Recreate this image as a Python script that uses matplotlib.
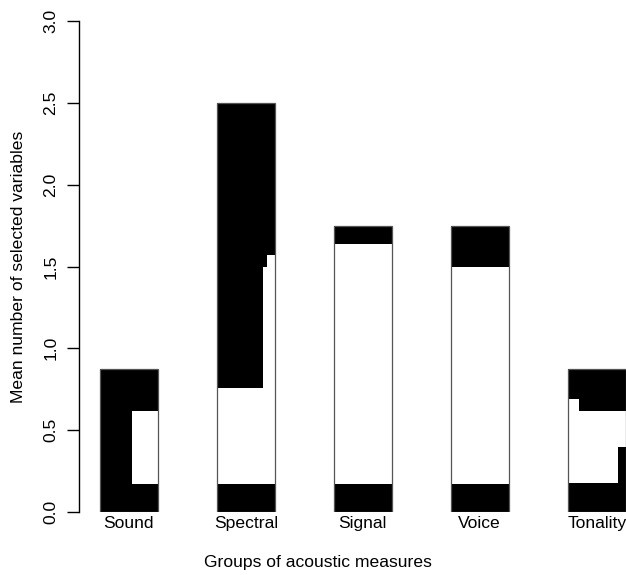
"""
Mean number of selected variables per group of acoustic measures
"""
import matplotlib
matplotlib.use("Agg")
import matplotlib.pyplot as plt

plt.rcParams['font.family'] = ['Liberation Sans', 'DejaVu Sans']

# groups and total bar heights
groups = ["Sound", "Spectral", "Signal", "Voice", "Tonality"]
totals = [0.875, 2.5, 1.75, 1.75, 0.875]

# white segments inside the bars: bar index, y from, y to, x-fraction from, x-fraction to
seg_bar = [0, 1, 1, 1, 2, 3, 4, 4, 4]
seg_low = [0.17, 0.17, 0.76, 1.50, 0.17, 0.17, 0.175, 0.40, 0.62]
seg_high = [0.62, 0.76, 1.50, 1.57, 1.64, 1.50, 0.40, 0.62, 0.69]
seg_x0 = [0.55, 0.0, 0.79, 0.86, 0.0, 0.0, 0.0, 0.0, 0.0]
seg_x1 = [1.0, 1.0, 1.0, 1.0, 1.0, 1.0, 0.87, 1.0, 0.19]

FS = 12.6


def main():
    fig = plt.figure(figsize=(6.26, 5.75), dpi=100)
    ax = fig.add_axes([78.5 / 626, 63 / 575, 568.6 / 626, 491 / 575])

    # R barplot layout: width 1, space 1
    lefts = [1 + 2 * i for i in range(len(groups))]
    centers = [l + 0.5 for l in lefts]

    ax.bar(lefts, totals, width=1.0, align='edge', color='black',
           edgecolor='none', linewidth=0)

    for b, lo, hi, x0, x1 in zip(seg_bar, seg_low, seg_high, seg_x0, seg_x1):
        ax.bar(lefts[b] + x0, hi - lo, width=x1 - x0, bottom=lo, align='edge',
               color='white', edgecolor='none', linewidth=0)

    # bar outlines on top
    ax.bar(lefts, totals, width=1.0, align='edge', facecolor='none',
           edgecolor='#555555', linewidth=0.9)

    ax.set_xlim(0.64, 10.36)
    ax.set_ylim(0, 3)

    for side in ['top', 'right', 'bottom']:
        ax.spines[side].set_visible(False)
    ax.spines['left'].set_bounds(0, 3)
    ax.spines['left'].set_linewidth(1.0)

    yt = [0, 0.5, 1.0, 1.5, 2.0, 2.5, 3.0]
    ax.set_yticks(yt)
    ax.set_yticklabels([f"{v:.1f}" for v in yt], rotation=90, va='center',
                       fontsize=FS)
    ax.tick_params(axis='y', length=8.6, width=1.0, pad=6)

    ax.set_xticks(centers)
    ax.set_xticklabels(groups, fontsize=FS)
    ax.tick_params(axis='x', length=0, pad=3)

    ax.set_ylabel("Mean number of selected variables", fontsize=FS)
    ax.set_xlabel("Groups of acoustic measures", fontsize=FS)
    ax.yaxis.set_label_coords(-(79 - 19) / 568.6, 0.5)
    ax.xaxis.set_label_coords((318 - 79) / 568.6, -(563 - 512) / 491)
    ax.xaxis.label.set_va('center')
    ax.yaxis.label.set_va('center')

    fig.savefig("out.png", dpi=100)
    plt.close(fig)


if __name__ == "__main__":
    main()
